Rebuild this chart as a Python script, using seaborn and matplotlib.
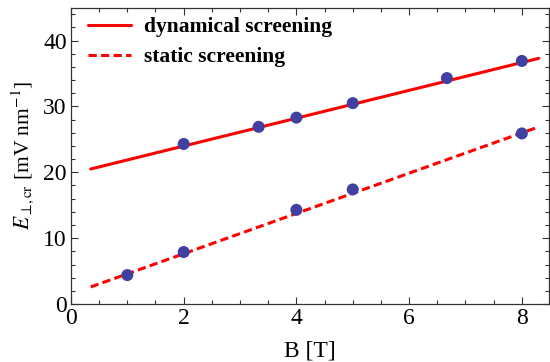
import numpy as np
import pandas as pd
import matplotlib
matplotlib.use("Agg")
import matplotlib.pyplot as plt
from matplotlib.ticker import MultipleLocator
import seaborn as sns

# Data
dyn_B = [2.0, 3.33, 4.0, 5.0, 6.67, 8.0]
dyn_E = [24.3, 26.9, 28.3, 30.5, 34.3, 36.9]
stat_B = [1.0, 2.0, 4.0, 5.0, 8.0]
stat_E = [4.4, 7.9, 14.3, 17.4, 25.9]
fit_B = [0.35, 8.3]
dyn_fit = [20.5, 37.3]
stat_fit = [2.6, 26.9]
series_labels = ["dynamical screening", "static screening"]

sns.set_style("ticks")
plt.rcParams["font.family"] = ["Liberation Serif", "DejaVu Serif"]
plt.rcParams["mathtext.fontset"] = "stix"
plt.rcParams["text.color"] = "black"
plt.rcParams["axes.labelcolor"] = "black"

fig = plt.figure(figsize=(5.5, 3.62), dpi=100)
ax = fig.add_axes([0.129, 0.160, 0.869, 0.819])

pts = pd.concat([
    pd.DataFrame({"B": dyn_B, "E": dyn_E}),
    pd.DataFrame({"B": stat_B, "E": stat_E}),
])
fits = pd.concat([
    pd.DataFrame({"B": fit_B, "E": dyn_fit, "s": series_labels[0]}),
    pd.DataFrame({"B": fit_B, "E": stat_fit, "s": series_labels[1]}),
])

sns.lineplot(data=fits, x="B", y="E", hue="s", style="s",
             palette=["#ff0000", "#ff0000"],
             dashes=[(None, None), (2.7, 1.4)], lw=2.2, ax=ax, zorder=2)
sns.scatterplot(data=pts, x="B", y="E", color="#4040a0", s=75,
                edgecolor="none", ax=ax, zorder=3, legend=False)

ax.set_xlim(0, 8.48)
ax.set_ylim(0, 45)
ax.xaxis.set_major_locator(MultipleLocator(2))
ax.xaxis.set_minor_locator(MultipleLocator(0.5))
ax.yaxis.set_major_locator(MultipleLocator(10))
ax.yaxis.set_minor_locator(MultipleLocator(2))
ax.tick_params(which="both", direction="in", top=True, right=True,
               labelsize=17, colors="#333333", width=0.8, pad=3)
ax.tick_params(which="major", length=5)
ax.tick_params(which="minor", length=3)
ax.tick_params(which="both", labelcolor="black")
for sp in ax.spines.values():
    sp.set_color("#333333")
    sp.set_linewidth(0.9)

ax.set_xlabel("B [T]", fontsize=17, labelpad=8, color="black")
ax.set_ylabel(r"$E_{\perp\!,\mathrm{cr}}$ [mV nm$^{-1}$]", fontsize=15.5,
              labelpad=5, color="black")

leg = ax.legend(title=None, loc="upper left", bbox_to_anchor=(0.036, 0.968),
                frameon=False, prop={"weight": "bold", "size": 15.5},
                handlelength=2.0, handletextpad=0.6, borderaxespad=0,
                borderpad=0, labelspacing=0.47, labelcolor="black")

fig.savefig("out.png", dpi=100)
